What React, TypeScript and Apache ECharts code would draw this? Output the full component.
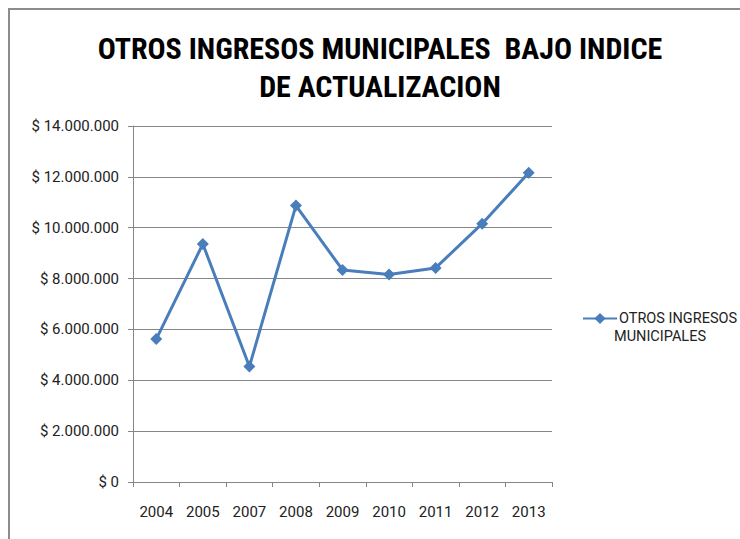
import React, { useEffect, useRef } from "react";
import * as echarts from "echarts";

const titleLines = ["OTROS INGRESOS MUNICIPALES  BAJO INDICE", "DE ACTUALIZACION"];
const categories = ["2004", "2005", "2007", "2008", "2009", "2010", "2011", "2012", "2013"];
const seriesName = "OTROS INGRESOS MUNICIPALES";
const legendLines = ["OTROS INGRESOS", "MUNICIPALES"];
const values = [5620000, 9360000, 4540000, 10870000, 8340000, 8160000, 8420000, 10160000, 12160000];
const yMin = 0;
const yMax = 14000000;
const yStep = 2000000;

const formatMoney = (v: number) => {
  const s = Math.round(v).toString().replace(/\B(?=(\d{3})+(?!\d))/g, ".");
  return "$ " + s;
};

const FONT = "'Liberation Sans Narrow', 'Roboto Condensed', Roboto, sans-serif";
const LABEL_FONT = "Roboto, 'Noto Sans', sans-serif";

export default function App() {
  const ref = useRef<HTMLDivElement>(null);
  useEffect(() => {
    if (!ref.current) return;
    const chart = echarts.init(ref.current, null, { renderer: "svg" });
    chart.setOption({
      animation: false,
      backgroundColor: "#ffffff",
      graphic: [
        { type: "rect", shape: { x: 8, y: 8, width: 732, height: 2 }, style: { fill: "#8c8c8c" } },
        { type: "rect", shape: { x: 8, y: 8, width: 2, height: 531 }, style: { fill: "#8c8c8c" } },
        {
          type: "text",
          x: 380,
          y: 48,
          style: { text: titleLines[0], fill: "#000", font: `bold 30px ${FONT}`, align: "center", verticalAlign: "middle" },
        },
        {
          type: "text",
          x: 380,
          y: 86,
          style: { text: titleLines[1], fill: "#000", font: `bold 30px ${FONT}`, align: "center", verticalAlign: "middle" },
        },
        {
          type: "text",
          x: 614,
          y: 336,
          style: { text: legendLines[1], fill: "#222", font: `14.5px ${LABEL_FONT}`, align: "left", verticalAlign: "middle" },
        },
      ],
      legend: {
        show: true,
        left: 577,
        top: 306,
        itemWidth: 34,
        itemHeight: 14,
        itemGap: 4,
        formatter: () => legendLines[0],
        textStyle: { color: "#222", fontSize: 14.5, fontFamily: LABEL_FONT, padding: [0, 0, 0, -3] },
        data: [{ name: seriesName }],
      },
      grid: { left: 133, right: 188, top: 126, bottom: 57, containLabel: false },
      xAxis: {
        type: "category",
        data: categories,
        boundaryGap: true,
        axisLine: { lineStyle: { color: "#868686", width: 1 } },
        axisTick: { show: true, length: 5, lineStyle: { color: "#868686" } },
        axisLabel: { color: "#222", fontSize: 15, fontFamily: LABEL_FONT, margin: 22 },
      },
      yAxis: {
        type: "value",
        min: yMin,
        max: yMax,
        interval: yStep,
        axisLine: { show: true, lineStyle: { color: "#868686", width: 1 } },
        axisTick: { show: true, length: 5, lineStyle: { color: "#868686" } },
        axisLabel: { color: "#222", fontSize: 15, fontFamily: LABEL_FONT, margin: 14, formatter: formatMoney },
        splitLine: { show: true, lineStyle: { color: "#868686", width: 1 } },
      },
      series: [
        {
          name: seriesName,
          type: "line",
          data: values,
          symbol: "diamond",
          symbolSize: 12,
          lineStyle: { color: "#4a7ebb", width: 3 },
          itemStyle: { color: "#4a7ebb" },
        },
      ],
    });
    return () => chart.dispose();
  }, []);
  return <div ref={ref} style={{ position: "fixed", left: 0, top: 0, width: 740, height: 539 }} />;
}
